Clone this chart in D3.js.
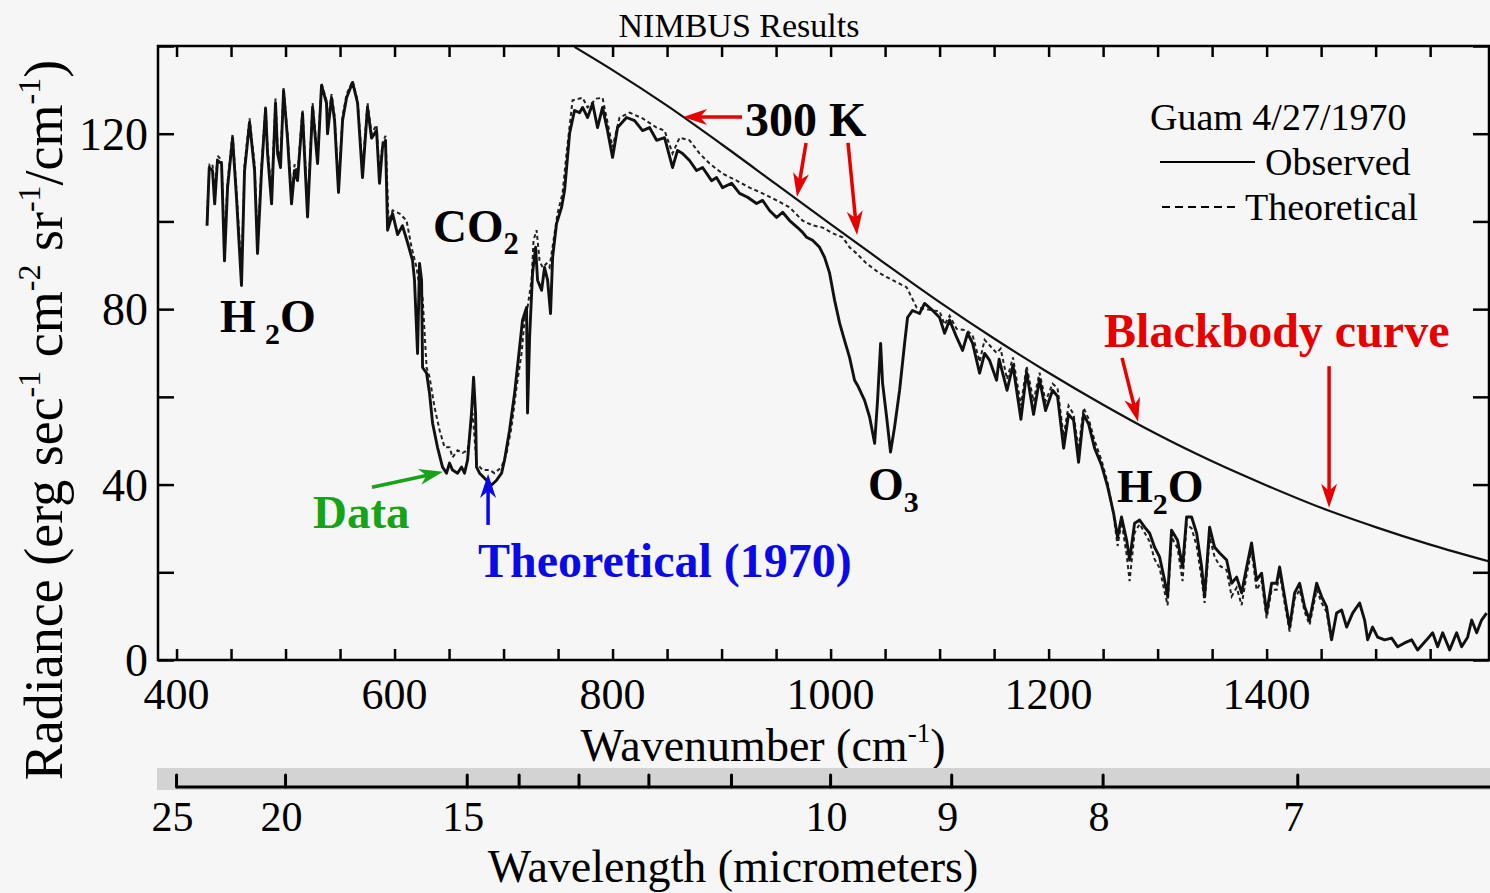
<!DOCTYPE html>
<html>
<head>
<meta charset="utf-8">
<script src="https://cdn.jsdelivr.net/npm/d3@7"></script>
<style>
  body { margin: 0; background: #f6f6f6; }
  svg { display: block; font-family: "Liberation Serif", "Times New Roman", serif; }
</style>
</head>
<body>
<svg id="chart" width="1490" height="893"></svg>
<script>
// ---- data: [wavenumber cm-1, radiance]
const observed = [
  [428,99],[430,112.3],[433,111.6],[435,104],[437.6,113.9],[441.3,113.2],[444,91],[446.8,107.7],[451.4,119],[455,105.5],
  [459.6,85.4],[462.4,111.6],[467,122.6],[471.6,111.6],[474.3,92.7],[478,111.6],[481.7,125.7],[483.5,115.5],[487.2,104],[490.8,127],
  [492.7,115.5],[495.4,112.3],[498.2,129.8],[501.8,119],[505.5,104],[508.3,111.6],[511,109.3],[515.6,124.6],[520.2,101],[524.8,126],
  [529.4,113.2],[533,131],[537.6,127],[538.5,120],[542.2,128.2],[545,123],[548.6,106.6],[552.3,123],[556,128.2],[561.5,131.7],
  [566.1,127],[570.6,110],[575.2,126],[578.9,119],[583.5,120.7],[586.2,108.7],[589,117],[591.7,118.5],[593.6,98],[598.2,101.8],
  [602.8,97],[607.3,99],[611.9,95.2],[616.5,91.1],[618.3,86.6],[621.1,69.9],[622.9,90.4],[624.8,86.6],[625.7,66.7],[629.4,65.4],
  [632.1,60.8],[634.9,54],[639.4,48.5],[644,44],[647.7,42.6],[650.4,44.9],[653.2,43.3],[657.8,42.6],[661.5,44],[664.2,42.6],
  [667,45.6],[670.6,56.3],[672.5,64.5],[674.3,56.3],[675.2,44],[678,42.6],[684.4,41],[689,39.9],[693.6,41],[698.2,42.6],
  [700.9,45.6],[705.5,52.4],[710.1,60.8],[714.7,71.3],[717.4,77.5],[721.1,80.4],[722,56.3],[723.9,73.6],[726.6,88.2],[729.4,94.1],
  [731.2,86.6],[734.9,84.3],[737.6,89.5],[740.4,86.6],[743.1,79],[745,91.8],[748.6,99.5],[753.2,103.2],[756,107.1],[760.6,120.1],
  [765.1,125.3],[769.7,124.8],[772.5,126],[777.1,123.7],[781.7,126.9],[786.2,121.4],[790.8,126],[795.4,120.7],[800,114.6],[804.6,121.4],
  [812.8,123.7],[820.2,123],[827.5,120.7],[833.9,121.4],[840.4,118.5],[847.7,119.1],[855,112.3],[859.6,116.2],[864.2,115.5],[870.6,113.9],
  [877.1,111.6],[882.6,112.3],[890.8,109.3],[895.4,110],[900.9,107.7],[909.2,108.7],[916.5,106.4],[923.9,105.5],[932.1,104.1],[937.6,104.8],
  [944,102.5],[950.5,100.9],[956,102.1],[962.4,100.2],[969.7,98.6],[974.3,97.5],[978,96.4],[983.5,95.7],[989.9,94.1],[994.5,91.8],
  [999.1,88.2],[1003.7,82],[1008.3,76.8],[1012.8,72.9],[1017.4,69],[1022,63.8],[1024.8,62.6],[1031.2,59.2],[1035.8,55.4],[1040.4,49.4],
  [1043.1,59.2],[1045.9,72.2],[1047.7,63.1],[1051.4,55.4],[1055,47.4],[1058.7,53.1],[1063.3,61.5],[1067.9,72.2],[1070.6,78.1],[1075.2,79.7],
  [1081.6,79],[1086.2,81.3],[1093.6,79.7],[1100,78.1],[1104.6,74.5],[1109.2,77.5],[1115.6,73.6],[1121.1,70.6],[1125.7,74.5],[1130.3,72.2],
  [1136.7,65.4],[1141.3,69.9],[1145.9,68.3],[1152.3,63.8],[1154.6,68.6],[1161.9,61.5],[1167.3,67.2],[1174.6,54.9],[1179.8,65.6],[1186.2,56],
  [1191.7,64],[1197.2,56.9],[1203.7,61.5],[1208.2,60.1],[1213.8,48.3],[1218.3,56],[1222.9,54.7],[1227.5,45.1],[1232.1,56],[1236.7,53.8],
  [1242.2,48.3],[1248.6,44.4],[1254.1,39.6],[1259.6,33.5],[1263.3,28],[1266.9,32.6],[1271.6,27.3],[1274.3,22.8],[1278.9,31.2],[1283.5,31.9],
  [1288.1,30.3],[1292.7,28.9],[1297.2,25.7],[1301.8,23.5],[1306.4,18.2],[1309.2,14.4],[1312.8,29.6],[1318.3,27.3],[1322.9,21.2],[1326.6,32.6],
  [1331.2,32.6],[1335.8,28.9],[1340.4,21.2],[1343.1,14.4],[1347.7,30.3],[1352.3,25.7],[1356.9,24.4],[1363.3,22.8],[1367.9,17.5],[1372.5,18.9],
  [1377.1,15.3],[1381.7,21.2],[1386.2,26.7],[1390.8,18.2],[1395.4,19.8],[1400,10.7],[1404.6,17.5],[1409.2,17.5],[1411.9,21.2],[1416.5,14.4],
  [1421.1,7.5],[1425.7,15.3],[1430.3,17.5],[1434.9,12.1],[1439.4,9.1],[1445.9,17.5],[1450.5,14.4],[1455,12.1],[1459.6,4.6],[1464.2,10.7],
  [1468.8,11.4],[1473.4,7.5],[1478.9,10.7],[1485.3,13],[1489.9,9.1],[1492.7,4.6],[1497.2,7.5],[1501.8,5.2],[1508.3,4.6],[1514.7,5],
  [1520.2,3],[1526.6,3.9],[1533,4.6],[1538.5,2.3],[1546.8,4.6],[1552.3,6.2],[1556.9,3],[1561.5,6.2],[1567.9,2.3],[1574.3,6.2],
  [1578.9,3],[1584.4,5.2],[1588.1,9.1],[1592.7,6.2],[1597.2,9.1],[1601.8,10.7]
];

const theoretical = [
  [428,101],[430.3,113],[433,113],[435,106],[437.6,115],[441.3,114],[444,94],[446.8,109],[451.4,120],[455,107],
  [459.6,88],[462.4,113],[467,123.5],[471.6,113],[474.3,95],[478,113],[481.7,126.5],[483.5,117],[487.2,106],[490.8,128],
  [492.7,117],[495.4,114],[498.2,130.5],[501.8,120],[505.5,106],[508.3,113],[511,111],[515.6,125.5],[520.2,103],[524.8,127],
  [529.4,115],[533,131.5],[537.6,127.5],[538.5,122],[542.2,129],[545,124],[548.6,108],[552.3,124],[556,129],[561.5,132],
  [566.1,127.5],[570.6,112],[575.2,127],[578.9,120],[583.5,122],[586.2,110],[589,118],[591.7,119.5],[594.5,100],[598.2,102.5],
  [604.6,101.8],[611,100.2],[615.6,94.1],[620.2,89.5],[622.9,85],[625.7,82.7],[629.4,66.7],[632.1,64.5],[636.7,57.6],[641.3,52.4],
  [645.9,48.5],[650.4,48.5],[653.2,46.2],[657.8,47.8],[662.4,47.2],[667,47.8],[671.6,56.3],[675.2,44.9],[680.7,43.3],[687.2,43.3],
  [691.7,42.6],[698.2,44],[702.8,47.2],[707.3,53.1],[711.9,62.2],[716.5,69.9],[719.3,77.5],[722,80.4],[725.7,86.6],[727.5,95.7],
  [730.3,98],[733,91.1],[735.8,89.5],[739.4,90.4],[742.2,89.5],[744.9,94.1],[749.5,101.8],[754.1,106.4],[758,116],[763.3,127.6],
  [772.5,128.2],[777,126],[785.3,128],[790.8,128.2],[800,116.9],[806.4,123.7],[815.6,124.8],[827.5,123.5],[840.4,121.4],[847.7,120.7],
  [855,115.5],[861.5,119.1],[870.6,118.5],[879.8,115.5],[889,113.2],[900.9,110.9],[913.8,109.3],[925.7,107.7],[937.6,106.4],[950.5,104.8],
  [962.4,103.2],[974.3,100.2],[983.5,99.1],[992.7,98.6],[1001.8,97.3],[1011,96.4],[1017.4,94.1],[1023.9,92.7],[1033,90.4],[1044.9,88.2],
  [1056.9,86.6],[1069.7,85],[1078.9,80.4],[1093.6,79.7],[1100,79.5],[1104.6,76.5],[1109.2,78.5],[1115.6,75.5],[1124.8,75.2],[1130.3,74],
  [1136.7,68],[1141.3,73],[1152.3,70],[1156,71],[1161.9,64],[1167.3,69],[1174.6,58],[1179.8,67],[1186.2,59],[1191.7,65.5],
  [1197.2,59],[1203.7,63],[1208.2,62],[1213.8,51],[1218.3,58],[1222.9,56],[1227.5,48],[1232.1,57.5],[1236.7,55],[1242.2,50],
  [1248.6,45.5],[1254.1,40.5],[1259.6,33],[1263.3,26],[1266.9,31.5],[1271.6,24],[1274.3,18],[1278.9,29],[1283.5,31],[1288.1,29],
  [1292.7,27],[1297.2,23],[1301.8,21],[1306.4,15.5],[1309.2,12.5],[1312.8,28],[1318.3,25.5],[1322.9,18],[1326.6,31],[1331.2,30],
  [1335.8,26],[1340.4,18.5],[1343.1,13],[1347.7,28],[1352.3,23.5],[1356.9,21.5],[1363.3,20.5],[1367.9,14.5],[1372.5,16.5],[1377.1,12.5],
  [1381.7,19.5],[1386.2,25],[1390.8,16],[1395.4,18],[1400,9.5],[1404.6,16],[1409.2,16],[1411.9,20],[1416.5,13],[1421.1,6.5],
  [1425.7,14],[1430.3,16],[1434.9,11],[1439.4,8],[1445.9,16],[1450.5,13],[1455,11],[1459.6,4]
];

// 300 K blackbody curve, read at intervals
const blackbody = [
  [765,139.8],[800,134.5],[850,126.4],[900,117.6],[950,108.5],[1000,99.4],[1050,90.4],[1100,81.6],[1150,73.3],
  [1200,65.5],[1250,58.2],[1300,51.4],[1350,45.3],[1400,39.8],[1450,34.7],[1500,30.3],[1550,26.3],[1605,22.4]
];

const wavenumberTicks = d3.range(400, 1551, 50);
const wavenumberLabels = [400, 600, 800, 1000, 1200, 1400];
const radianceTicks = d3.range(0, 141, 20);
const radianceLabels = [0, 40, 80, 120];
const wavelengthTicks = [25, 20, 15, 14, 13, 12, 11, 10, 9, 8, 7];
const wavelengthLabels = [25, 20, 15, 10, 9, 8, 7];

// ---- chart
const svg = d3.select("#chart");
const W = 1490, H = 893;

const xScale = d3.scaleLinear().domain([383, 1604]).range([158, 1489]);
const yScale = d3.scaleLinear().domain([0, 140]).range([660, 46]);

const red = "#e60000", green = "#17a317", blue = "#0a0ae6";

svg.append("rect")
   .attr("width", W).attr("height", H)
   .attr("fill", "#f6f6f6");

svg.append("defs").append("clipPath")
   .attr("id", "plotclip")
   .append("rect")
   .attr("x", xScale.range()[0]).attr("y", yScale.range()[1])
   .attr("width", xScale.range()[1] - xScale.range()[0])
   .attr("height", yScale.range()[0] - yScale.range()[1]);

// title
svg.append("text")
   .attr("x", 739).attr("y", 37)
   .attr("text-anchor", "middle")
   .attr("font-size", 34)
   .text("NIMBUS Results");

// ticks (inward on all four sides)
function tickAxis(axis, transform) {
    const g = svg.append("g")
       .attr("transform", transform)
       .call(axis.tickFormat(""));
    g.select(".domain").remove();
    g.selectAll(".tick line").attr("stroke", "#000").attr("stroke-width", 2.5);
}
tickAxis(d3.axisBottom(xScale).tickValues(wavenumberTicks).tickSize(-11), "translate(0,660)");
tickAxis(d3.axisTop(xScale).tickValues(wavenumberTicks).tickSize(-11), "translate(0,46)");
tickAxis(d3.axisLeft(yScale).tickValues(radianceTicks).tickSize(-16), "translate(158,0)");
tickAxis(d3.axisRight(yScale).tickValues(radianceTicks).tickSize(-16), "translate(1489,0)");

// frame
svg.append("rect")
   .attr("x", 158).attr("y", 46)
   .attr("width", 1331).attr("height", 614)
   .attr("fill", "none")
   .attr("stroke", "#000")
   .attr("stroke-width", 2.5);

// tick labels
svg.append("g").selectAll("text")
   .data(wavenumberLabels)
   .join("text")
   .attr("x", d => xScale(d))
   .attr("y", 709)
   .attr("text-anchor", "middle")
   .attr("font-size", 44)
   .text(d => d);

svg.append("g").selectAll("text")
   .data(radianceLabels)
   .join("text")
   .attr("x", 148)
   .attr("y", d => yScale(d) + 16)
   .attr("text-anchor", "end")
   .attr("font-size", 46)
   .text(d => d);

// axis titles
const xt = svg.append("text")
   .attr("x", 763).attr("y", 761)
   .attr("text-anchor", "middle")
   .attr("font-size", 46);
xt.append("tspan").text("Wavenumber (cm");
xt.append("tspan").attr("font-size", 27).attr("dy", -19).text("-1");
xt.append("tspan").attr("dy", 19).text(")");

const yt = svg.append("text")
   .attr("transform", "translate(62,420) rotate(-90)")
   .attr("text-anchor", "middle")
   .attr("font-size", 54);
[["Radiance (erg sec", 0], ["-1", 1], [" cm", 0], ["-2", 1], [" sr", 0], ["-1", 1], ["/cm", 0], ["-1", 1], [")", 0]]
  .forEach(([t, sup], i, arr) => {
      const prevSup = i > 0 && arr[i - 1][1];
      const ts = yt.append("tspan").text(t);
      if (sup) ts.attr("font-size", 32).attr("dy", -22);
      else if (prevSup) ts.attr("dy", 22);
  });

// wavelength axis band
svg.append("rect")
   .attr("x", 157).attr("y", 768)
   .attr("width", 1333).attr("height", 22)
   .attr("fill", "#d3d3d3");
svg.append("line")
   .attr("x1", xScale(400)).attr("x2", 1490)
   .attr("y1", 787).attr("y2", 787)
   .attr("stroke", "#000").attr("stroke-width", 3);
svg.append("g").selectAll("line")
   .data(wavelengthTicks)
   .join("line")
   .attr("x1", d => xScale(1e4 / d)).attr("x2", d => xScale(1e4 / d))
   .attr("y1", 775).attr("y2", 787)
   .attr("stroke", "#000").attr("stroke-width", 3)
   .attr("stroke-linecap", "round");
svg.append("g").selectAll("text")
   .data(wavelengthLabels)
   .join("text")
   .attr("x", d => xScale(1e4 / d) - 4)
   .attr("y", 831)
   .attr("text-anchor", "middle")
   .attr("font-size", 42)
   .text(d => d);
svg.append("text")
   .attr("x", 733).attr("y", 882)
   .attr("text-anchor", "middle")
   .attr("font-size", 46)
   .text("Wavelength (micrometers)");

// curves
const line = d3.line()
   .x(d => xScale(d[0]))
   .y(d => yScale(d[1]));

const plot = svg.append("g").attr("clip-path", "url(#plotclip)");

plot.append("path")
   .datum(blackbody)
   .attr("fill", "none")
   .attr("stroke", "#111")
   .attr("stroke-width", 2.2)
   .attr("d", line.curve(d3.curveMonotoneX));

line.curve(d3.curveLinear);

plot.append("path")
   .datum(theoretical)
   .attr("fill", "none")
   .attr("stroke", "#222")
   .attr("stroke-width", 2)
   .attr("stroke-dasharray", "4,3")
   .attr("d", line);

plot.append("path")
   .datum(observed)
   .attr("fill", "none")
   .attr("stroke", "#111")
   .attr("stroke-width", 2.9)
   .attr("stroke-linejoin", "round")
   .attr("d", line);

// legend
svg.append("text").attr("x", 1150).attr("y", 130).attr("font-size", 38).text("Guam 4/27/1970");
svg.append("line").attr("x1", 1160).attr("x2", 1255).attr("y1", 162).attr("y2", 162)
   .attr("stroke", "#000").attr("stroke-width", 2.2);
svg.append("text").attr("x", 1265).attr("y", 175).attr("font-size", 38).text("Observed");
svg.append("line").attr("x1", 1162).attr("x2", 1240).attr("y1", 207).attr("y2", 207)
   .attr("stroke", "#000").attr("stroke-width", 2).attr("stroke-dasharray", "8,5");
svg.append("text").attr("x", 1245).attr("y", 220).attr("font-size", 38).text("Theoretical");

// annotations (anchored in data units)
function label(v, r, parts, color, size) {
    const t = svg.append("text")
       .attr("x", xScale(v)).attr("y", yScale(r))
       .attr("font-size", size)
       .attr("font-weight", "bold")
       .attr("fill", color);
    let shift = 0;
    parts.forEach(([s, sub]) => {
        const ts = t.append("tspan").text(s);
        const want = sub ? 12 : 0;
        if (want !== shift) ts.attr("dy", want - shift);
        if (sub) ts.attr("font-size", size * 0.65);
        shift = want;
    });
}

function arrow(v1, r1, v2, r2, color) {
    const x1 = xScale(v1), y1 = yScale(r1), x2 = xScale(v2), y2 = yScale(r2);
    const a = Math.atan2(y2 - y1, x2 - x1);
    const len = 24, half = 8, notch = 17;
    const ux = Math.cos(a), uy = Math.sin(a);
    const bx = x2 - ux * len, by = y2 - uy * len;
    svg.append("line")
       .attr("x1", x1).attr("y1", y1)
       .attr("x2", x2 - ux * notch).attr("y2", y2 - uy * notch)
       .attr("stroke", color).attr("stroke-width", 3.5);
    const pts = [
        [x2, y2],
        [bx - uy * half, by + ux * half],
        [x2 - ux * notch, y2 - uy * notch],
        [bx + uy * half, by - ux * half]
    ];
    svg.append("path")
       .attr("d", "M" + pts.map(p => p.join(",")).join("L") + "Z")
       .attr("fill", color);
}

label(921.5, 119.5, [["300 K", 0]], "#000", 48);
label(635.3, 95.3, [["CO", 0], ["2", 1]], "#000", 47);
label(439.9, 74.8, [["H", 0], ["\u2009", 0], ["2", 1], ["O", 0]], "#000", 46);
label(1034.4, 36.5, [["O", 0], ["3", 1]], "#000", 46);
label(1262.8, 36.0, [["H", 0], ["2", 1], ["O", 0]], "#000", 46);
label(1250.9, 71.4, [["Blackbody curve", 0]], red, 48);
label(525.2, 30.1, [["Data", 0]], green, 47);
label(676.6, 18.9, [["Theoretical (1970)", 0]], blue, 48);

arrow(918.8, 123.8, 864.7, 123.8, red);
arrow(977.5, 117.9, 969.2, 105.6, red);
arrow(1016.0, 117.9, 1024.3, 96.9, red);
arrow(1267.4, 68.9, 1282.1, 54.3, red);
arrow(1457.3, 67.0, 1457.3, 34.7, red);
arrow(579.3, 39.4, 644.5, 42.9, green);
arrow(685.8, 30.8, 685.8, 42.4, blue);
</script>
</body>
</html>
